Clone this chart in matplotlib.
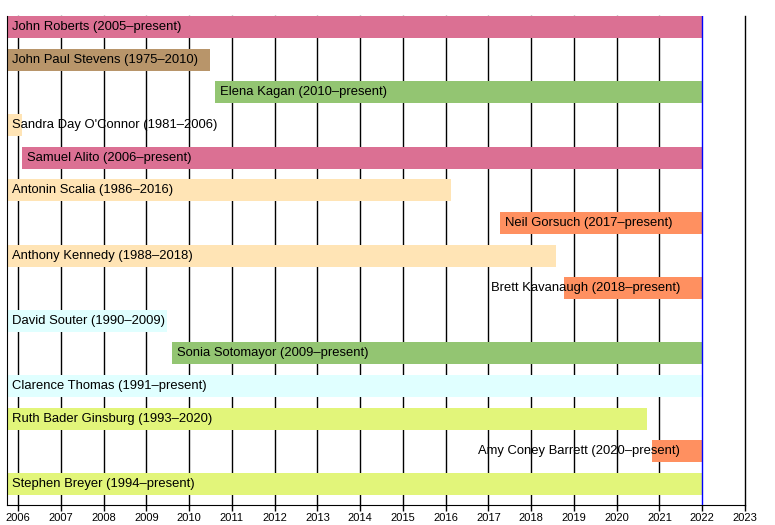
import matplotlib
matplotlib.use('Agg')
import matplotlib.pyplot as plt

plt.rcParams['font.family'] = ['Liberation Sans', 'DejaVu Sans']

# justices, top to bottom
names = ['John Roberts (2005–present)', 'John Paul Stevens (1975–2010)',
         'Elena Kagan (2010–present)', "Sandra Day O'Connor (1981–2006)",
         'Samuel Alito (2006–present)', 'Antonin Scalia (1986–2016)',
         'Neil Gorsuch (2017–present)', 'Anthony Kennedy (1988–2018)',
         'Brett Kavanaugh (2018–present)', 'David Souter (1990–2009)',
         'Sonia Sotomayor (2009–present)', 'Clarence Thomas (1991–present)',
         'Ruth Bader Ginsburg (1993–2020)', 'Amy Coney Barrett (2020–present)',
         'Stephen Breyer (1994–present)']
# service in decimal years
start = [2005.74, 1975.96, 2010.60, 1981.73, 2006.08, 1986.73, 2017.27, 1988.13,
         2018.76, 1990.77, 2009.60, 1991.81, 1993.60, 2020.82, 1994.59]
end = [None, 2010.49, None, 2006.08, None, 2016.12, None, 2018.58,
       None, 2009.49, None, None, 2020.71, None, None]
colors = ['#DB7093', '#B8956A', '#93C572', '#FFE4B5', '#DB7093', '#FFE4B5',
          '#FF9060', '#FFE4B5', '#FF9060', '#E0FFFF', '#93C572', '#E0FFFF',
          '#E2F57A', '#FF9060', '#E2F57A']
label_right = [False] * 15
label_right[8] = True
label_right[13] = True

present = 2022.0
view_start = start[0]
years = list(range(2006, 2024))

fig = plt.figure(figsize=(7.75, 5.25), dpi=100)
ax = fig.add_axes([7 / 775, 20 / 525, 738 / 775, 489 / 525])

for i, name in enumerate(names):
    s = max(start[i], view_start)
    e = end[i] if end[i] is not None else present
    ax.barh(i, e - s, left=s, height=0.674, color=colors[i], zorder=2)
    if label_right[i]:
        ax.annotate(name, (present, i), xytext=(-16, 0), textcoords='offset points',
                    ha='right', va='center', fontsize=9.4, zorder=3)
    else:
        ax.annotate(name, (s, i), xytext=(3.6, 0), textcoords='offset points',
                    ha='left', va='center', fontsize=9.4, zorder=3)

for y in years:
    if y == present:
        continue
    ax.axvline(y, color='black', lw=1, zorder=1, clip_on=False)
ax.axvline(present, color='blue', lw=1, zorder=3)

ax.set_xlim(view_start, 2023)
ax.set_ylim(14.643, -0.337)
ax.set_xticks(years)
ax.set_xticklabels([str(y) for y in years], fontsize=8)
ax.tick_params(axis='x', length=4, width=1, pad=1.5)
ax.set_yticks([])
for side in ['top', 'right']:
    ax.spines[side].set_visible(False)

fig.savefig('out.png', dpi=100)
